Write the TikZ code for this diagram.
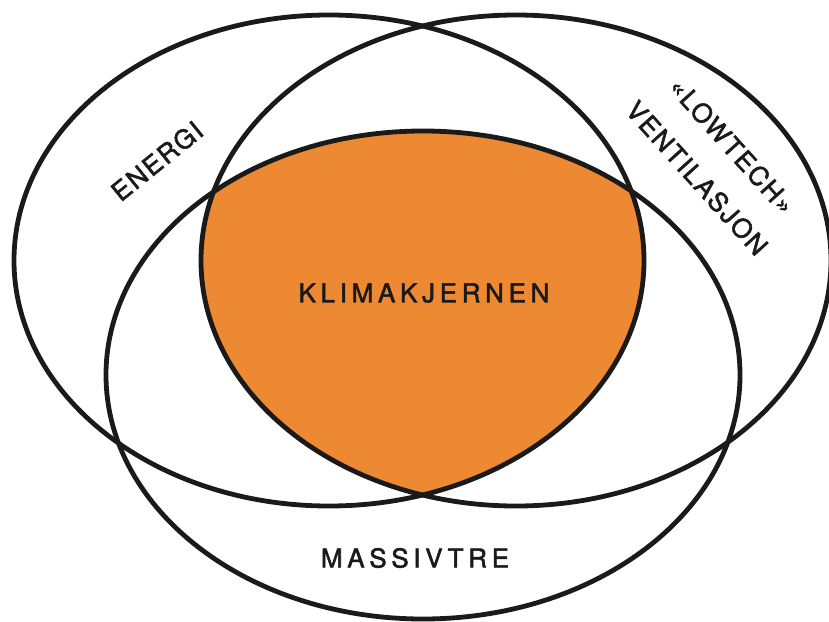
\documentclass[tikz,border=0pt]{standalone}
\usepackage{fontspec}
\setmainfont{TeX Gyre Heros}
\usepackage{xcolor}
\usepackage{tikz}

\definecolor{klimaorange}{RGB}{238,137,51}
\definecolor{ringblack}{RGB}{26,26,26}

\tikzset{
  ring/.style={draw=ringblack, line width=2.4pt},
  lbl/.style={inner sep=0pt, text=ringblack,
    font=\fontsize{13}{15}\selectfont\addfontfeatures{LetterSpace=7,FakeBold=2}},
  widelbl/.style={lbl,
    font=\fontsize{13}{15}\selectfont\addfontfeatures{LetterSpace=18,FakeBold=2}},
}

\begin{document}
\begin{tikzpicture}[x=0.5pt,y=-0.5pt]
  \useasboundingbox (0,0) rectangle (829,621);
  % centres of the three fields
  \coordinate (energi) at (329,260.5);
  \coordinate (lowtech) at (516,260.5);
  \coordinate (massiv) at (423,375);

  % the common core
  \begin{scope}
    \clip (energi) ellipse [x radius=315, y radius=245.5];
    \clip (lowtech) ellipse [x radius=315, y radius=245.5];
    \fill[klimaorange] (massiv) ellipse [x radius=317, y radius=244];
  \end{scope}

  \draw[ring] (energi) ellipse [x radius=315, y radius=245.5];
  \draw[ring] (lowtech) ellipse [x radius=315, y radius=245.5];
  \draw[ring] (massiv) ellipse [x radius=317, y radius=244];

  % labels
  \node[widelbl] (kjerne) at (424,293) {KLIMAKJERNEN};
  \node[widelbl] (massivtre) at (415,558) {MASSIVTRE};
  \node[lbl, rotate=39] (energilbl) at (157,161) {ENERGI};
  \node[lbl, rotate=-48] (lowtechlbl) at (732,146) {«LOWTECH»};
  \node[lbl, rotate=-48] (ventlbl) at (697,178) {VENTILASJON};
\end{tikzpicture}
\end{document}
